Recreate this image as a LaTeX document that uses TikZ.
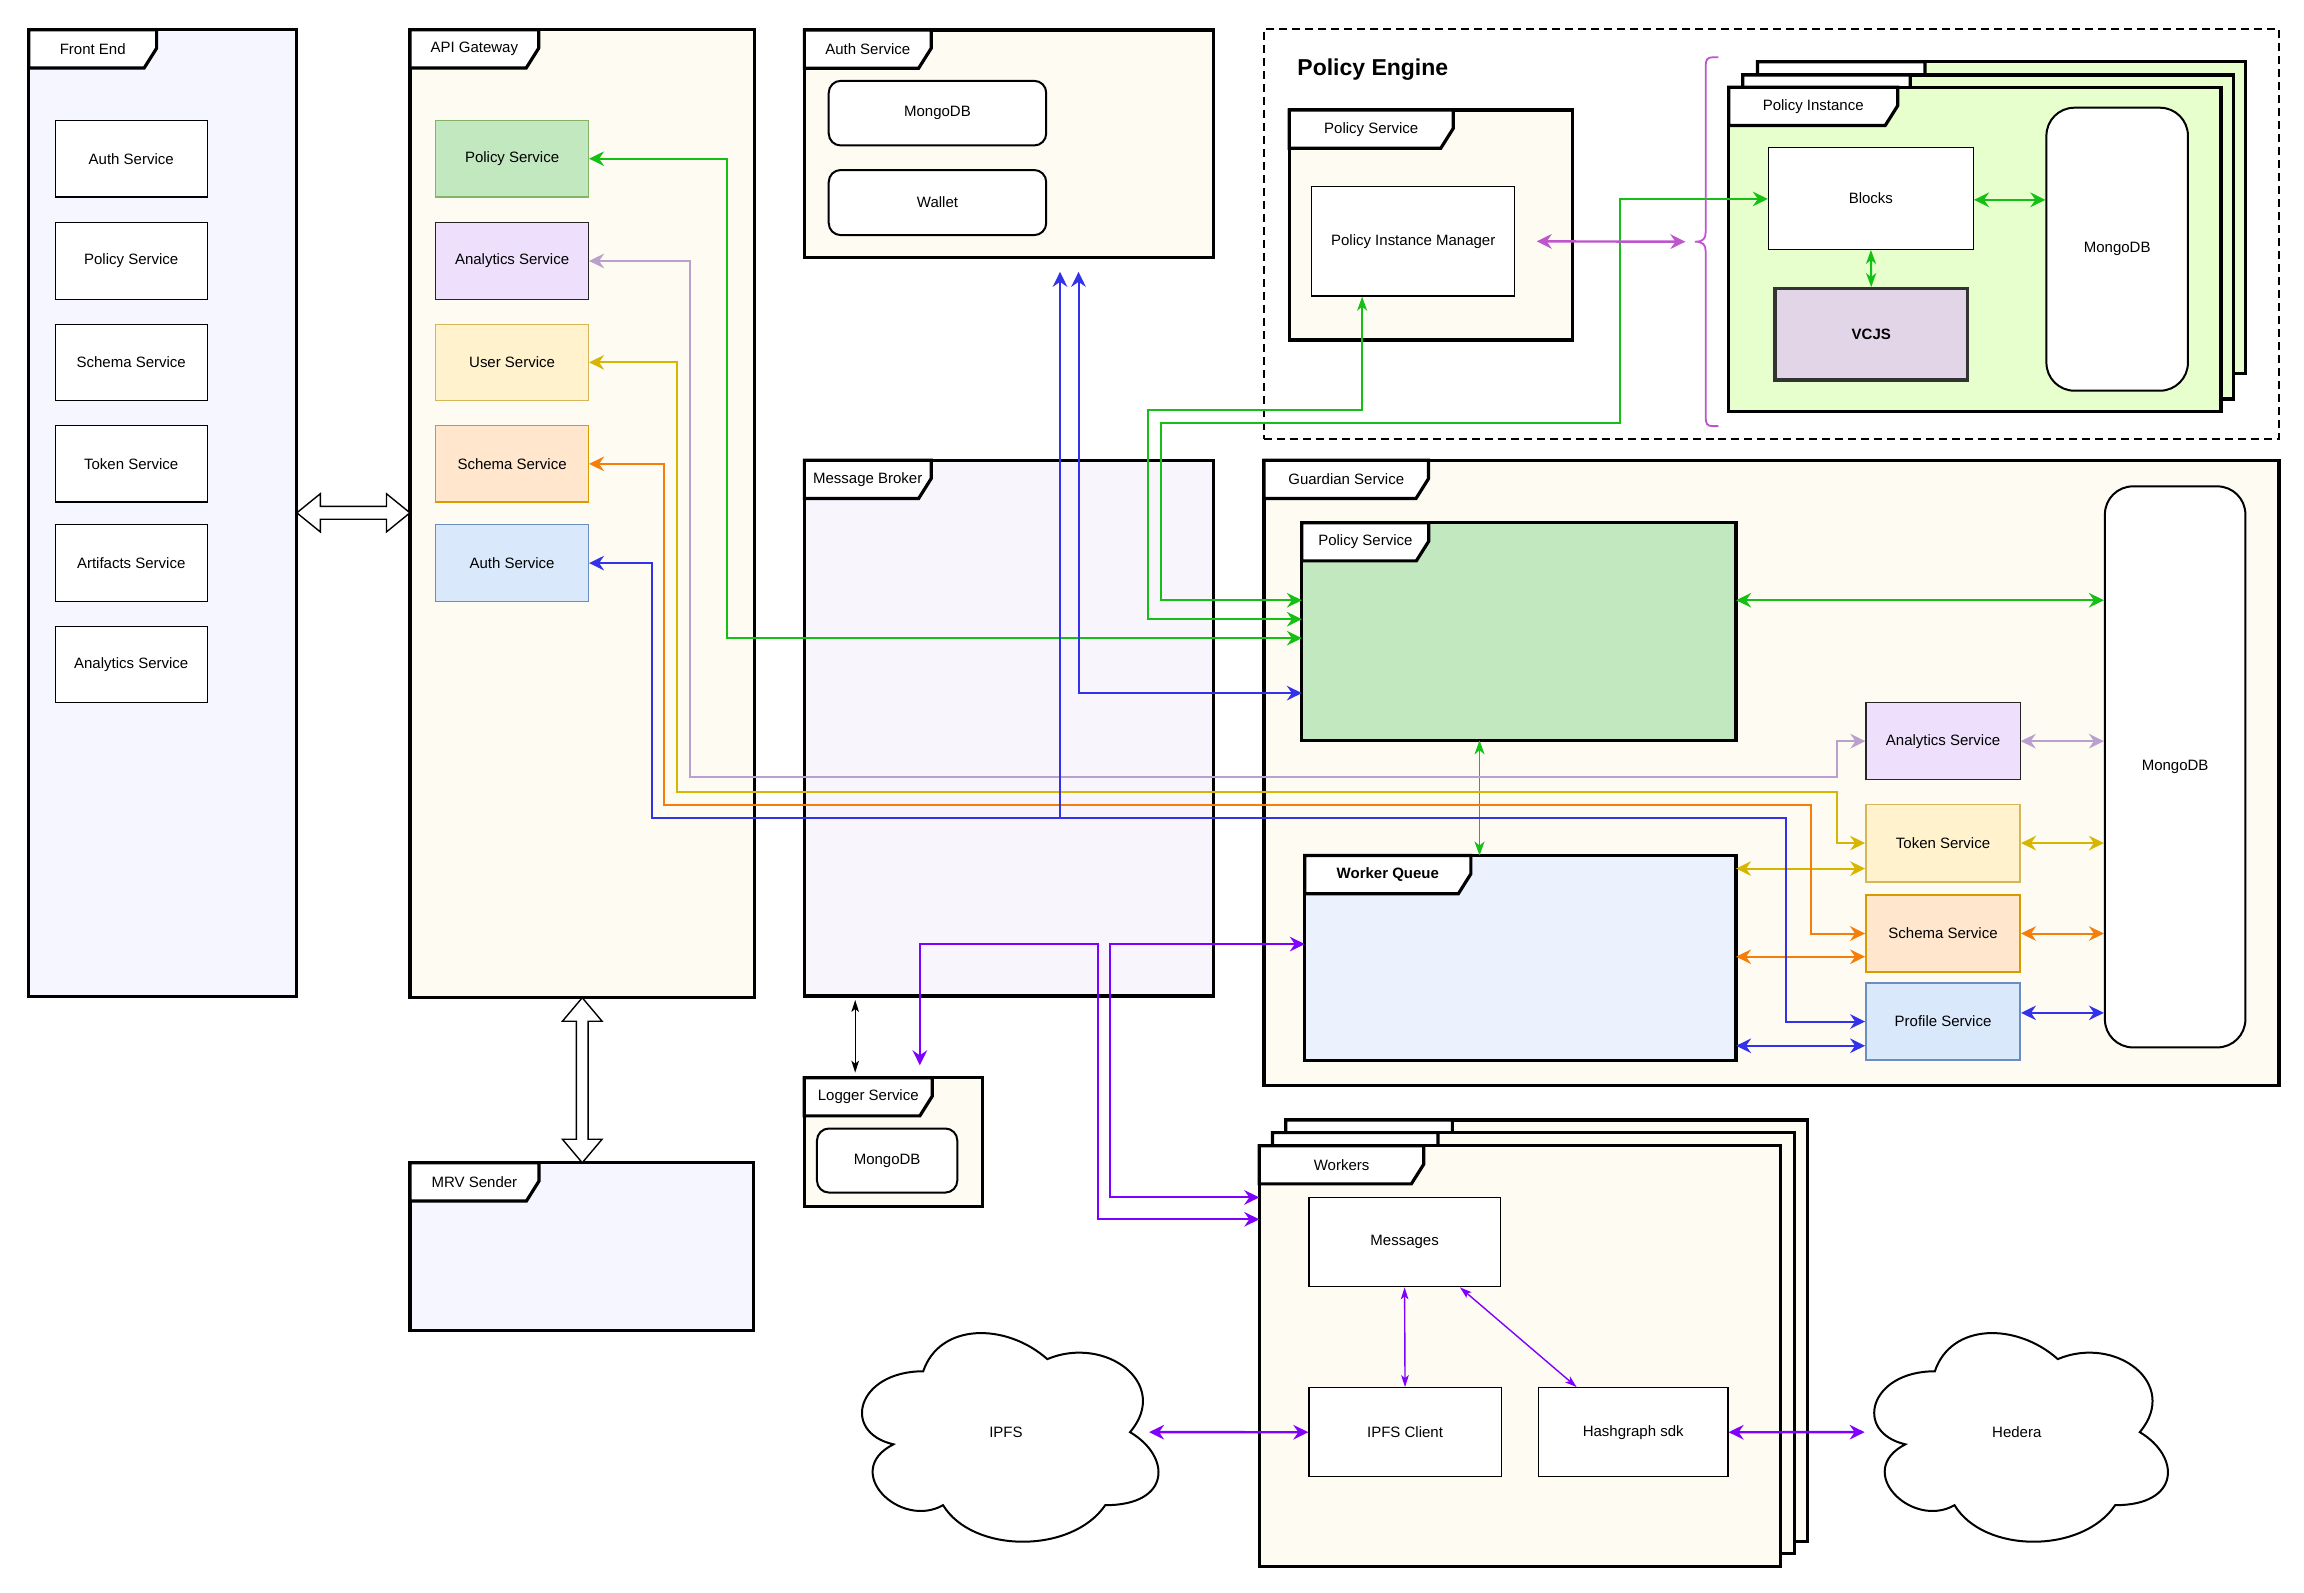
\documentclass[tikz,border=0pt]{standalone}
\usepackage{fontspec}
\setmainfont{Liberation Sans}
\usetikzlibrary{arrows.meta,fit,calc}
\newcommand\fsz{\fontsize{7.5pt}{9pt}\selectfont}
\definecolor{feFill}{RGB}{245,246,255}
\definecolor{cream}{RGB}{254,251,243}
\definecolor{mbFill}{RGB}{249,245,253}
\definecolor{piFill}{RGB}{230,255,204}
\definecolor{psFill}{RGB}{194,232,192}
\definecolor{psLine}{RGB}{130,179,102}
\definecolor{anFill}{RGB}{238,224,252}
\definecolor{ylFill}{RGB}{255,242,204}
\definecolor{ylLine}{RGB}{214,182,86}
\definecolor{orFill}{RGB}{255,230,204}
\definecolor{orLine}{RGB}{215,155,0}
\definecolor{blFill}{RGB}{218,232,252}
\definecolor{blLine}{RGB}{108,142,191}
\definecolor{wqFill}{RGB}{235,241,253}
\definecolor{vcFill}{RGB}{225,213,231}
\definecolor{cGreen}{RGB}{20,192,20}
\definecolor{cLilac}{RGB}{185,160,205}
\definecolor{cYellow}{RGB}{214,182,0}
\definecolor{cOrange}{RGB}{245,125,10}
\definecolor{cBlue}{RGB}{50,50,235}
\definecolor{cPurple}{RGB}{127,0,255}
\definecolor{cMag}{RGB}{190,85,205}
\tikzset{
 bigtip/.tip={Stealth[length=7.5pt,width=7.3pt,inset=2.5pt]},
 narrowtip/.tip={Stealth[length=7pt,width=5pt,inset=2pt]},
 smalltip/.tip={Stealth[length=6pt,width=3.8pt,inset=1.5pt]},
 frame/.style={draw=black, line width=1.6pt, inner sep=0pt, outer sep=0pt},
 sbox/.style={draw=black, line width=0.6pt, fill=white, inner sep=0pt},
 rbox/.style={draw=black, line width=1pt, fill=white, rounded corners=6pt},
 conn/.style={line width=1pt, >=bigtip},
 fine/.style={line width=0.7pt, >=smalltip},
 hollow/.style={draw=black, line width=0.7pt, fill=white},
}
% frame: name, x1, y1, x2, y2, tab width, label, fill
\newcommand\frm[8]{%
  \node[frame, fill=#8, fit={(#2,#3) (#4,#5)}] (#1) {};
  \draw[line width=1.6pt, fill=white] (#2,#3) -- ++(#6,0) -- ++(0,12.5) -- ++(-8.5,13.5) -- (#2,{#3+26}) -- cycle;
  \node[font=\fsz, inner sep=0pt] at ({#2+#6/2},{#3+13}) {#7};}
% box: [style] name, x1, y1, x2, y2, text
\newcommand\bx[7][]{\node[sbox,#1,fit={(#3,#4) (#5,#6)},label={[font=\fsz,inner sep=0pt]center:#7}] (#2) {};}
% cloud: name, x, y, w, h, text
\newcommand\cld[6]{%
\draw[line width=1pt, fill=white] ({#2+0.25*#4},{#3+0.25*#5})
 .. controls ({#2+0.05*#4},{#3+0.25*#5}) and ({#2},{#3+0.5*#5}) .. ({#2+0.16*#4},{#3+0.55*#5})
 .. controls ({#2},{#3+0.66*#5}) and ({#2+0.18*#4},{#3+0.9*#5}) .. ({#2+0.31*#4},{#3+0.8*#5})
 .. controls ({#2+0.4*#4},{#3+#5}) and ({#2+0.7*#4},{#3+#5}) .. ({#2+0.8*#4},{#3+0.8*#5})
 .. controls ({#2+#4},{#3+0.8*#5}) and ({#2+#4},{#3+0.6*#5}) .. ({#2+0.875*#4},{#3+0.5*#5})
 .. controls ({#2+#4},{#3+0.3*#5}) and ({#2+0.8*#4},{#3+0.1*#5}) .. ({#2+0.625*#4},{#3+0.2*#5})
 .. controls ({#2+0.5*#4},{#3+0.05*#5}) and ({#2+0.3*#4},{#3+0.05*#5}) .. ({#2+0.25*#4},{#3+0.25*#5}) -- cycle;
\node[font=\fsz, inner sep=1pt] (#1) at ({#2+0.5*#4},{#3+0.5*#5}) {#6};}
\begin{document}
\begin{tikzpicture}[x=0.735pt,y=-0.735pt]
\fill[white] (0,0) rectangle (1568,1083.5);
\useasboundingbox (0,0) rectangle (1568,1083.5);
% ---------- frames
\frm{fe}{19.6}{20.3}{202}{678}{87}{Front End}{feFill}
\frm{api}{279}{20.3}{513.5}{679}{87.6}{API Gateway}{cream}
\frm{auth}{547.4}{20.4}{825.6}{175}{86.3}{Auth Service}{cream}
\frm{mb}{547.4}{313.2}{825.6}{677.8}{86.3}{Message Broker}{mbFill}
\node[draw, line width=1pt, dash pattern=on 4pt off 2.5pt, inner sep=0pt, fit={(860,20) (1551,299)}] (pe) {};
\node[font=\fontsize{11.5pt}{13pt}\selectfont\bfseries, anchor=west, inner sep=0pt] (peTitle) at (882.7,47.6) {Policy Engine};
\frm{peps}{877.4}{74.9}{1070}{231.4}{111.6}{Policy Service}{cream}
\frm{piB}{1196}{42}{1528}{254}{114}{}{piFill}
\frm{piM}{1186}{51}{1520}{271.5}{114}{}{piFill}
\frm{pi}{1176.5}{59.4}{1511.5}{280}{115}{Policy Instance}{piFill}
\frm{gs}{860.2}{313.2}{1551}{738.7}{112}{Guardian Service}{cream}
\frm{gps}{886}{355.7}{1181.5}{503.8}{86.4}{Policy Service}{psFill}
\frm{wq}{888}{582.2}{1181.5}{721.5}{113}{\bfseries Worker Queue}{wqFill}
\frm{logger}{547.3}{733.4}{668.8}{821}{87.2}{Logger Service}{cream}
\frm{mrv}{279}{791.3}{513}{905.3}{87.8}{MRV Sender}{feFill}
\frm{wkB}{875.1}{762.2}{1230}{1049.2}{113.3}{}{cream}
\frm{wkM}{866}{770.8}{1221.5}{1057}{112.6}{}{cream}
\frm{wk}{857}{779.7}{1211.7}{1066.2}{112}{Workers}{cream}
% ---------- boxes
\bx{feAuth}{37.6}{82}{141}{134}{Auth Service}
\bx{fePolicy}{37.6}{151.6}{141}{203.6}{Policy Service}
\bx{feSchema}{37.6}{220.6}{141}{272.6}{Schema Service}
\bx{feToken}{37.6}{289.7}{141}{341.7}{Token Service}
\bx{feArt}{37.6}{357.2}{141}{409.2}{Artifacts Service}
\bx{feAna}{37.6}{426.3}{141}{478.3}{Analytics Service}
\bx[fill=psFill,draw=psLine]{apiPolicy}{296.5}{82}{400.5}{134}{Policy Service}
\bx[fill=anFill,draw=black!85]{apiAna}{296.5}{151.6}{400.5}{203.6}{Analytics Service}
\bx[fill=ylFill,draw=ylLine]{apiUser}{296.5}{220.6}{400.5}{272.6}{User Service}
\bx[fill=orFill,draw=orLine]{apiSchema}{296.5}{289.7}{400.5}{341.7}{Schema Service}
\bx[fill=blFill,draw=blLine]{apiAuth}{296.5}{357.2}{400.5}{409.2}{Auth Service}
\bx[rbox]{authMongo}{564}{55}{712}{99}{MongoDB}
\bx[rbox]{authWallet}{564}{115.7}{712}{160}{Wallet}
\bx{pim}{892.7}{127}{1030.8}{201.5}{Policy Instance Manager}
\bx{blocks}{1203.5}{100.3}{1343}{169.7}{Blocks}
\bx[fill=vcFill,draw=black!80,line width=1.6pt]{vcjs}{1208}{196.5}{1339}{258.6}{\bfseries VCJS}
\bx[rbox,rounded corners=14pt]{piMongo}{1392.7}{73.3}{1489}{265.9}{MongoDB}
\bx[fill=anFill,draw=black!85]{gAna}{1269.9}{478.3}{1374.8}{530.5}{Analytics Service}
\bx[fill=ylFill,draw=ylLine,line width=0.9pt]{gToken}{1269.9}{547.5}{1374.8}{600}{Token Service}
\bx[fill=orFill,draw=orLine,line width=0.9pt]{gSchema}{1269.9}{608.9}{1374.8}{661.7}{Schema Service}
\bx[fill=blFill,draw=blLine,line width=0.9pt]{gProfile}{1269.9}{668.9}{1374.8}{721.5}{Profile Service}
\bx[rbox,rounded corners=14pt]{gMongo}{1432.5}{331}{1528.1}{712.8}{MongoDB}
\bx[rbox]{logMongo}{556}{768}{651.5}{811.6}{MongoDB}
\bx{messages}{890.8}{814.9}{1021}{875.7}{Messages}
\bx{ipfsClient}{890.8}{944.4}{1021.6}{1005}{IPFS Client}
\bx{hashgraph}{1047}{944.4}{1176}{1005}{Hashgraph sdk}
\cld{ipfs}{572}{891.8}{225.2}{165.7}{IPFS}
\cld{hedera}{1261}{891.8}{223.1}{165.7}{Hedera}
% ---------- hollow double arrows
\draw[hollow] (fe.east |- 0,349) -- ++(16,-13) -- ++(0,8.6) -- ++(45,0) -- ++(0,-8.6) -- ++(16,13) -- ++(-16,13) -- ++(0,-8.6) -- ++(-45,0) -- ++(0,8.6) -- cycle;
\draw[hollow] (api.south) -- ++(13.5,16) -- ++(-9.5,0) -- ++(0,80.3) -- ++(9.5,0) -- ++(-13.5,16) -- ++(-13.5,-16) -- ++(9.5,0) -- ++(0,-80.3) -- ++(-9.5,0) -- cycle;
% ---------- green
\draw[conn,<->,cGreen] (apiPolicy.east) -| (495,434.3) -- (gps.west |- 0,434.3);
\draw[conn,narrowtip-bigtip,cGreen] (pim.south -| 927,0) -- (927,279) -- (781,279) -- (781,421.4) -- (gps.west |- 0,421.4);
\draw[conn,<->,cGreen] (blocks.west |- 0,135.4) -- (1102.5,135.4) -- (1102.5,288) -- (789.8,288) -- (789.8,408.5) -- (gps.west |- 0,408.5);
\draw[conn,<->,cGreen,line width=1.2pt] (gps.east |- 0,408.5) -- (gMongo.west |- 0,408.5);
\draw[conn,narrowtip-narrowtip,cGreen,line width=0.8pt] (gps.south -| 1006.9,0) -- (wq.north -| 1006.9,0);
\draw[conn,narrowtip-narrowtip,cGreen] (blocks.south) -- (vcjs.north);
\draw[conn,<->,cGreen,line width=1.2pt] (blocks.east |- 0,136) -- (piMongo.west |- 0,136);
% ---------- magenta brace
\coordinate (brTip) at (1153.5,164.5);
\draw[cMag, line width=0.9pt] (1169.4,39) -- (1165.5,39) .. controls (1162,39) and (1160.8,40.5) .. (1160.8,45) -- (1160.8,158) .. controls (1160.8,162.5) and (1159,164.5) .. (brTip) .. controls (1159,164.5) and (1160.8,166.5) .. (1160.8,171) -- (1160.8,284) .. controls (1160.8,288.5) and (1162,290) .. (1165.5,290) -- (1169.4,290);
\draw[conn,<->,cMag,line width=1.2pt] ($(pim.east)+(14.6,0)$) -- ($(brTip)+(-6.5,0)$);
% ---------- lilac
\draw[conn,<->,cLilac] (apiAna.east) -| (469.6,529.1) -- (1250,529.1) |- (gAna.west);
\draw[conn,<->,cLilac] (gAna.east) -- (gMongo.west |- gAna.east);
% ---------- yellow
\draw[conn,<->,cYellow] (apiUser.east) -| (461,538.9) -- (1250,538.9) |- (gToken.west);
\draw[conn,<->,cYellow] (gToken.east) -- (gMongo.west |- gToken.east);
\draw[conn,<->,cYellow] (wq.east |- 0,591.1) -- (gToken.west |- 0,591.1);
% ---------- orange
\draw[conn,<->,cOrange] (apiSchema.east) -| (452.2,547.9) -- (1232.7,547.9) |- (gSchema.west);
\draw[conn,<->,cOrange] (gSchema.east) -- (gMongo.west |- gSchema.east);
\draw[conn,<->,cOrange] (wq.east |- 0,651.1) -- (gSchema.west |- 0,651.1);
% ---------- blue
\draw[conn,<->,cBlue] (apiAuth.east) -| (443.7,556.4) -- (1215.4,556.4) |- (gProfile.west);
\draw[conn,<->,cBlue] (gProfile.east |- 0,689.3) -- (gMongo.west |- 0,689.3);
\draw[conn,<->,cBlue] (wq.east |- 0,711.7) -- (gProfile.west |- 0,711.7);
\coordinate (authIn1) at (721.4,185);
\coordinate (authIn2) at (734,185);
\draw[conn,->,cBlue] (721.4,556.4) -- (authIn1);
\draw[conn,<->,cBlue] (gps.west |- 0,471.7) -- (734,471.7) -- (authIn2);
% ---------- purple
\coordinate (logIn) at (626,725);
\draw[conn,<->,cPurple] (wq.west |- 0,642.5) -- (755.2,642.5) -- (755.2,814.9) -- (wk.west |- 0,814.9);
\draw[conn,<->,cPurple] (logIn) -- (626,642.5) -- (747.5,642.5) -- (747.5,829.8) -- (wk.west |- 0,829.8);
\draw[fine,<->,black,line width=0.6pt,shorten <=2pt,shorten >=2.5pt] (mb.south -| 582,0) -- (logger.north -| 582,0);
\draw[fine,<->,cPurple] (messages.south) -- (ipfsClient.north);
\draw[fine,<->,cPurple] (messages.south -| 993.6,0) -- (hashgraph.north -| 1073,0);
\draw[conn,<->,cPurple,line width=1.2pt] (ipfs.center -| 782,0) -- (ipfsClient.west);
\draw[conn,<->,cPurple,line width=1.2pt] (hashgraph.east) -- (hedera.center -| 1269,0);
\end{tikzpicture}
\end{document}
